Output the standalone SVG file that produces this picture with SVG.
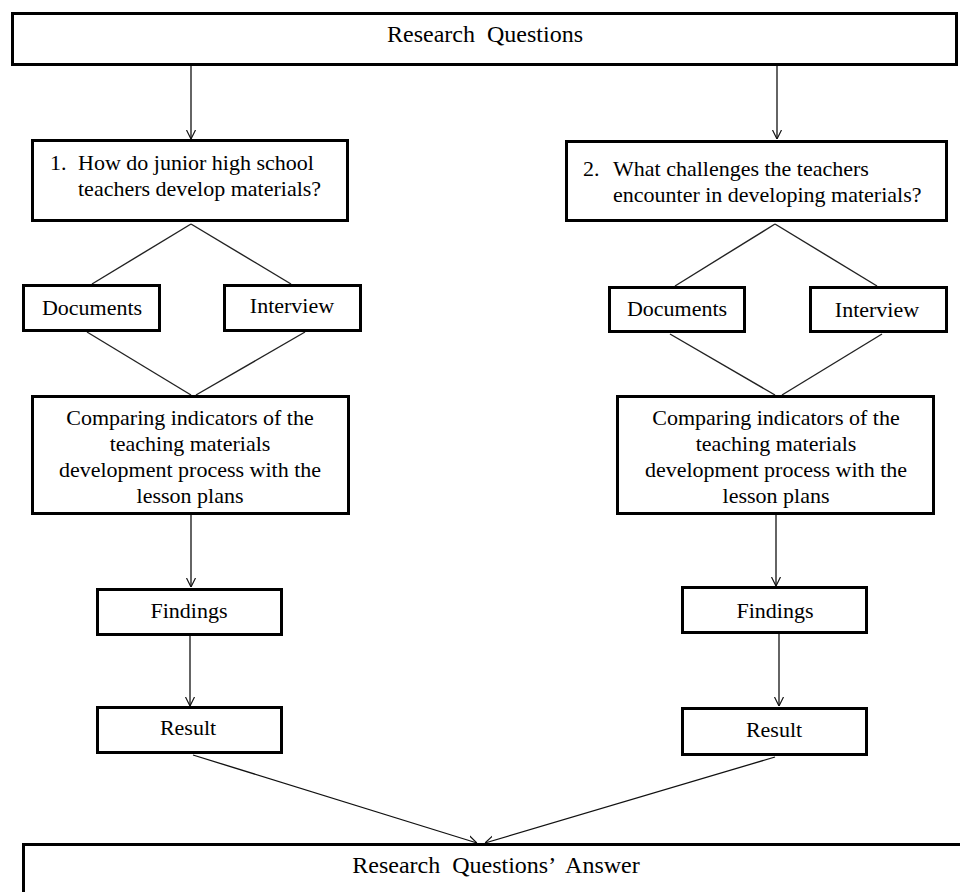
<svg xmlns="http://www.w3.org/2000/svg" width="960" height="892" viewBox="0 0 960 892">
<style>
.box{fill:#fff;stroke:#000;stroke-width:3}
.t{font-family:"Liberation Serif","Times New Roman",serif;font-size:22px;fill:#000}
.tc{text-anchor:middle}
.big{font-size:24px;word-spacing:6px}
.ln{stroke:#222;stroke-width:1.4;fill:none}
.ar{stroke:#111;stroke-width:1.3;fill:none;marker-end:url(#arr)}
</style>
<defs>
<marker id="arr" viewBox="0 0 10 10" refX="10" refY="5" markerWidth="9" markerHeight="14" markerUnits="userSpaceOnUse" orient="auto">
<path d="M0,0 L10,5 L0,10" fill="none" stroke="#111" stroke-width="1.3"/>
</marker>
</defs>
<rect width="960" height="892" fill="#fff"/>
<g id="connectors">
<line class="ar" x1="191" y1="66" x2="191" y2="139"/>
<line class="ar" x1="777" y1="66" x2="777" y2="139"/>
<line class="ln" x1="191" y1="224" x2="92" y2="284"/>
<line class="ln" x1="191" y1="224" x2="291" y2="284"/>
<line class="ln" x1="87" y1="332" x2="191" y2="395"/>
<line class="ln" x1="305" y1="332" x2="196" y2="395"/>
<line class="ln" x1="775" y1="224" x2="675" y2="286"/>
<line class="ln" x1="775" y1="224" x2="877" y2="286"/>
<line class="ln" x1="670" y1="334" x2="775" y2="395"/>
<line class="ln" x1="882" y1="334" x2="782" y2="395"/>
<line class="ar" x1="191" y1="515" x2="191" y2="587"/>
<line class="ar" x1="776" y1="515" x2="776" y2="586"/>
<line class="ar" x1="190" y1="635" x2="190" y2="706"/>
<line class="ar" x1="779" y1="633" x2="779" y2="706"/>
<line class="ar" x1="193" y1="755" x2="477" y2="843"/>
<line class="ar" x1="775" y1="757" x2="485" y2="843"/>
</g>
<g id="research-questions">
<rect class="box" x="12.5" y="13.5" width="944" height="51"/>
<text class="t tc big" x="485" y="42">Research Questions</text>
</g>
<g id="q1">
<rect class="box" x="32.5" y="140.5" width="315" height="80"/>
<text class="t" x="50" y="170">1.</text>
<text class="t" x="78" y="170">How do junior high school</text>
<text class="t" x="78" y="196">teachers develop materials?</text>
</g>
<g id="q2">
<rect class="box" x="566.5" y="141.5" width="380" height="79"/>
<text class="t" x="583" y="176">2.</text>
<text class="t" x="613" y="176">What challenges the teachers</text>
<text class="t" x="613" y="202">encounter in developing materials?</text>
</g>
<g id="documents-1">
<rect class="box" x="23.5" y="285.5" width="136" height="45"/>
<text class="t tc" x="92" y="315">Documents</text>
</g>
<g id="interview-1">
<rect class="box" x="224.5" y="285.5" width="136" height="45"/>
<text class="t tc" x="292" y="313">Interview</text>
</g>
<g id="documents-2">
<rect class="box" x="609.5" y="287.5" width="135" height="44"/>
<text class="t tc" x="677" y="316">Documents</text>
</g>
<g id="interview-2">
<rect class="box" x="810.5" y="287.5" width="136" height="44"/>
<text class="t tc" x="877" y="317">Interview</text>
</g>
<g id="comparing-1">
<rect class="box" x="32.5" y="396.5" width="316" height="117"/>
<text class="t tc" x="190" y="425">Comparing indicators of the</text>
<text class="t tc" x="190" y="451">teaching materials</text>
<text class="t tc" x="190" y="477">development process with the</text>
<text class="t tc" x="190" y="503">lesson plans</text>
</g>
<g id="comparing-2">
<rect class="box" x="617.5" y="396.5" width="316" height="117"/>
<text class="t tc" x="776" y="425">Comparing indicators of the</text>
<text class="t tc" x="776" y="451">teaching materials</text>
<text class="t tc" x="776" y="477">development process with the</text>
<text class="t tc" x="776" y="503">lesson plans</text>
</g>
<g id="findings-1">
<rect class="box" x="97.5" y="589.5" width="184" height="45"/>
<text class="t tc" x="189" y="618">Findings</text>
</g>
<g id="findings-2">
<rect class="box" x="682.5" y="587.5" width="184" height="45"/>
<text class="t tc" x="775" y="618">Findings</text>
</g>
<g id="result-1">
<rect class="box" x="97.5" y="707.5" width="184" height="45"/>
<text class="t tc" x="188" y="735">Result</text>
</g>
<g id="result-2">
<rect class="box" x="682.5" y="708.5" width="184" height="46"/>
<text class="t tc" x="774" y="737">Result</text>
</g>
<g id="answer">
<rect class="box" x="23.5" y="844.5" width="950" height="60"/>
<text class="t tc big" x="496" y="873">Research Questions’ Answer</text>
</g>
</svg>
